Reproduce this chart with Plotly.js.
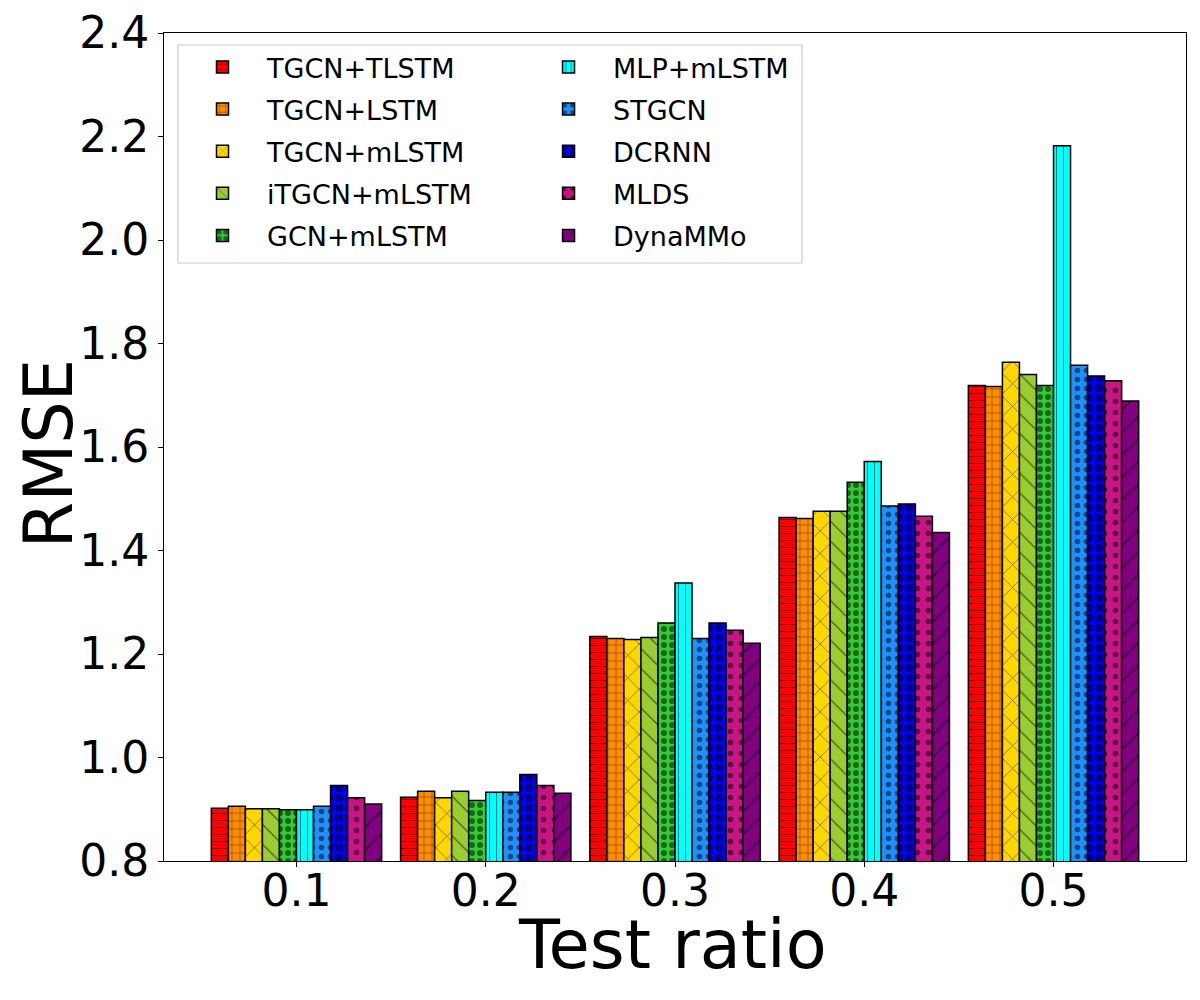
<!DOCTYPE html>
<html>
<head>
<meta charset="utf-8">
<script src="https://cdn.plot.ly/plotly-3.0.1.min.js"></script>
<style>
  body { margin: 0; background: #fff; }
  #myDiv { width: 1200px; height: 1000px; }
</style>
</head>
<body>
<div id="myDiv"></div>
<script>
// test ratios on the x axis
var ratios = ['0.1', '0.2', '0.3', '0.4', '0.5'];

// RMSE per method
var tgcnTlstm  = [0.902, 0.923, 1.234, 1.464, 1.719];
var tgcnLstm   = [0.906, 0.935, 1.230, 1.462, 1.717];
var tgcnMlstm  = [0.901, 0.922, 1.228, 1.476, 1.764];
var itgcnMlstm = [0.901, 0.935, 1.232, 1.476, 1.740];
var gcnMlstm   = [0.899, 0.917, 1.260, 1.532, 1.719];
var mlpMlstm   = [0.899, 0.933, 1.337, 1.572, 2.182];
var stgcn      = [0.906, 0.933, 1.230, 1.486, 1.758];
var dcrnn      = [0.946, 0.967, 1.260, 1.490, 1.737];
var mlds       = [0.922, 0.946, 1.246, 1.466, 1.728];
var dynammo    = [0.910, 0.931, 1.221, 1.435, 1.689];

var names  = ['TGCN+TLSTM', 'TGCN+LSTM', 'TGCN+mLSTM', 'iTGCN+mLSTM', 'GCN+mLSTM',
              'MLP+mLSTM', 'STGCN', 'DCRNN', 'MLDS', 'DynaMMo'];
var series = [tgcnTlstm, tgcnLstm, tgcnMlstm, itgcnMlstm, gcnMlstm,
              mlpMlstm, stgcn, dcrnn, mlds, dynammo];
var colors = ['#ff0000', '#ff8c00', '#ffd700', '#9acd32', '#32cd32',
              '#00ffff', '#1e90ff', '#0000ff', '#c71585', '#800080'];
var shapes = ['-', '+', 'x', '\\', '.', '|', '.', '.', '.', '/'];
var psize  = [7, 8, 16, 14, 8, 7, 9, 10, 11, 16];
var psolid = [0.15, 0.15, 0.1, 0.1, 0.45, 0.15, 0.3, 0.5, 0.2, 0.1];

// first five in the left legend column, the rest in the right one
var data = [];
for (var i = 0; i < names.length; i++) {
  data.push({
    type: 'bar',
    x: ratios,
    y: series[i],
    name: names[i],
    legend: i < 5 ? 'legend' : 'legend2',
    legendgroup: 'g' + i,
    marker: {
      color: colors[i],
      line: {color: '#000', width: 1.5},
      pattern: {
        shape: shapes[i],
        fillmode: 'overlay',
        bgcolor: colors[i],
        fgcolor: '#000',
        size: psize[i],
        solidity: psolid[i]
      }
    }
  });
}

var legendStyle = function (xpos) {
  return {
    orientation: 'v',
    x: xpos,
    y: 0.988,
    xanchor: 'left',
    yanchor: 'top',
    itemwidth: 79,
    traceorder: 'grouped',
    tracegroupgap: 4,
    font: {family: 'DejaVu Sans', size: 27},
    bgcolor: 'rgba(0,0,0,0)',
    borderwidth: 0
  };
};

var layout = {
  width: 1200,
  height: 1000,
  margin: {l: 164, r: 14, t: 33, b: 139},
  paper_bgcolor: '#fff',
  plot_bgcolor: '#fff',
  font: {family: 'DejaVu Sans', color: '#000'},
  barmode: 'group',
  bargap: 0.1,
  bargroupgap: 0,
  showlegend: true,
  legend: legendStyle(0.0137),
  legend2: legendStyle(0.3523),
  // frame around both legend columns
  shapes: [{
    type: 'rect',
    xref: 'paper', yref: 'paper',
    x0: 0.0137, x1: 0.6243, y0: 0.7222, y1: 0.9855,
    line: {color: '#cccccc', width: 1.2},
    fillcolor: 'rgba(255,255,255,0.8)',
    layer: 'above'
  }],
  // axis titles placed as annotations so they sit where the reference has them
  annotations: [
    {
      text: 'Test ratio',
      xref: 'paper', yref: 'paper',
      x: 0.498, y: -0.102,
      xanchor: 'center', yanchor: 'middle',
      showarrow: false,
      font: {family: 'DejaVu Sans', size: 67, color: '#000'}
    },
    {
      text: 'RMSE',
      xref: 'paper', yref: 'paper',
      x: -0.113, y: 0.492,
      xanchor: 'center', yanchor: 'middle',
      textangle: -90,
      showarrow: false,
      font: {family: 'DejaVu Sans', size: 67, color: '#000'}
    }
  ],
  xaxis: {
    type: 'category',
    range: [-0.7, 4.7],
    showline: true,
    mirror: true,
    linecolor: '#000',
    linewidth: 1,
    ticks: 'outside',
    ticklen: 5,
    tickwidth: 1,
    tickcolor: '#000',
    ticklabelstandoff: -14,
    showgrid: false,
    tickfont: {family: 'DejaVu Sans', size: 44}
  },
  yaxis: {
    range: [0.8, 2.4],
    tickvals: [0.8, 1.0, 1.2, 1.4, 1.6, 1.8, 2.0, 2.2, 2.4],
    tickformat: '.1f',
    showline: true,
    mirror: true,
    linecolor: '#000',
    linewidth: 1,
    ticks: 'outside',
    ticklen: 5,
    tickwidth: 1,
    tickcolor: '#000',
    showgrid: false,
    zeroline: false,
    tickfont: {family: 'DejaVu Sans', size: 44}
  }
};

Plotly.newPlot('myDiv', data, layout, {displayModeBar: false});
</script>
</body>
</html>
